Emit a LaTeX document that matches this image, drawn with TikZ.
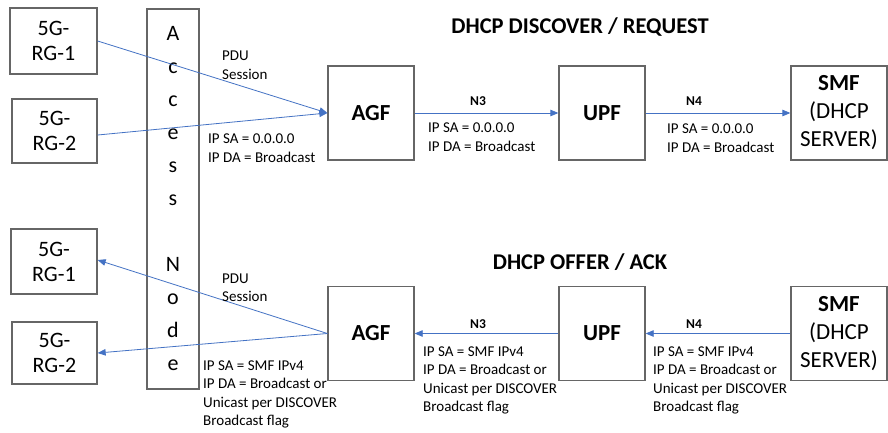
\documentclass[tikz,border=0pt]{standalone}
\usepackage{fontspec}
\setmainfont{Carlito}
\usetikzlibrary{arrows.meta}
\definecolor{arrowblue}{HTML}{4472C4}
\definecolor{boxgray}{HTML}{666666}
\begin{document}
\begin{tikzpicture}[x=1pt,y=-1pt,
  box/.style={draw=boxgray,line width=1.3pt,inner sep=0pt,align=center,font=\fontsize{22}{25}\selectfont},
  fnbox/.style={box,minimum width=86pt,minimum height=94pt,font=\fontsize{23}{28}\selectfont\bfseries},
  smfbox/.style={box,minimum width=96pt,minimum height=94pt,font=\fontsize{23}{28}\selectfont},
  lbl/.style={font=\fontsize{15}{18.5}\selectfont,align=left,inner sep=0pt,anchor=west},
  iface/.style={font=\fontsize{13.5}{16}\selectfont\bfseries,inner sep=0pt},
  ttl/.style={font=\fontsize{22.5}{27}\selectfont\bfseries,inner sep=0pt},
  msg/.style={draw=arrowblue,line width=0.8pt,-{Triangle[length=8pt,width=6.5pt]}}]
\fill[white] (0,0) rectangle (888,432);
\useasboundingbox (0,0) rectangle (888,432);

% left boxes
\node[box,minimum width=87pt,minimum height=66pt] (rg1a) at (53.5,41) {5G-\\RG-1};
\node[box,minimum width=85pt,minimum height=64pt] (rg2a) at (54.5,131) {5G-\\RG-2};
\node[box,minimum width=86pt,minimum height=65pt] (rg1b) at (54,261.5) {5G-\\RG-1};
\node[box,minimum width=85pt,minimum height=62pt] (rg2b) at (54.5,353) {5G-\\RG-2};

% access node
\node[box,minimum width=52pt,minimum height=380pt,font=\fontsize{22}{33}\selectfont] (an) at (173,199)
  {A\\c\\c\\e\\s\\s\\\mbox{}\\N\\o\\d\\e};

% top row
\node[fnbox] (agf1) at (371,113) {AGF};
\node[fnbox] (upf1) at (602,113) {UPF};
\node[smfbox] (smf1) at (839,113) {\textbf{SMF}\\(DHCP\\SERVER)};

% bottom row
\node[fnbox] (agf2) at (371,333.5) {AGF};
\node[fnbox] (upf2) at (602,333.5) {UPF};
\node[smfbox] (smf2) at (839,333.5) {\textbf{SMF}\\(DHCP\\SERVER)};

% titles
\node[ttl] (t1) at (580,27) {DHCP DISCOVER / REQUEST};
\node[ttl] (t2) at (580,262) {DHCP OFFER / ACK};

% top connectors
\draw[msg] (rg1a.east) -- (agf1.west);
\draw[msg] ([yshift=-4pt]rg2a.east) -- (agf1.west);
\draw[msg] (agf1.east) -- (upf1.west);
\draw[msg] (upf1.east) -- (smf1.west);

% bottom connectors
\draw[msg] (agf2.west) -- ([yshift=1.5pt]rg1b.east);
\draw[msg] (agf2.west) -- (rg2b.east);
\draw[msg] (upf2.west) -- (agf2.east);
\draw[msg] (smf2.west) -- (upf2.east);

% top labels
\node[lbl] (pdu1) at (222,65) {PDU\\Session};
\node[lbl] (ip1) at (208,148) {IP SA = 0.0.0.0\\IP DA = Broadcast};
\node[iface] (n3a) at (478,101) {N3};
\node[lbl] (ip2) at (428,137) {IP SA = 0.0.0.0\\IP DA = Broadcast};
\node[iface] (n4a) at (694,101) {N4};
\node[lbl] (ip3) at (667,138) {IP SA = 0.0.0.0\\IP DA = Broadcast};

% bottom labels
\node[lbl] (pdu2) at (222,287.5) {PDU\\Session};
\node[lbl] (ip4) at (203,394.5) {IP SA = SMF IPv4\\IP DA = Broadcast or\\Unicast per DISCOVER\\Broadcast flag};
\node[iface] (n3b) at (478,324) {N3};
\node[lbl] (ip5) at (423,380.5) {IP SA = SMF IPv4\\IP DA = Broadcast or\\Unicast per DISCOVER\\Broadcast flag};
\node[iface] (n4b) at (694,324) {N4};
\node[lbl] (ip6) at (653,380.5) {IP SA = SMF IPv4\\IP DA = Broadcast or\\Unicast per DISCOVER\\Broadcast flag};
\end{tikzpicture}
\end{document}
